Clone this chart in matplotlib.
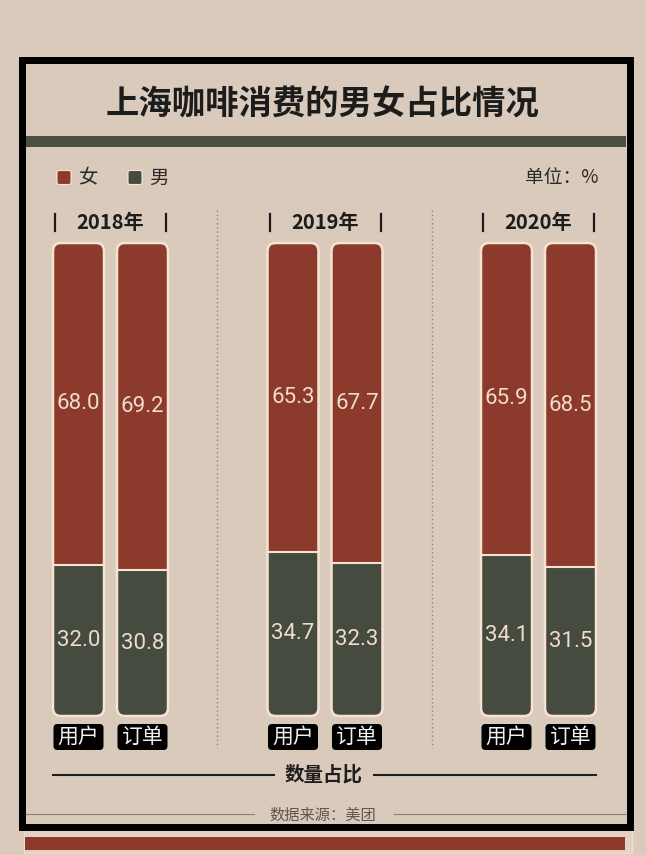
import matplotlib
matplotlib.use('Agg')
import matplotlib.pyplot as plt
from matplotlib.patches import FancyBboxPatch, Rectangle

plt.rcParams['font.family'] = ['Noto Sans CJK SC', 'DejaVu Sans']

# ---- data ----
years = ['2018年', '2019年', '2020年']
categories = ['用户', '订单']
female_user = [68.0, 65.3, 65.9]
female_order = [69.2, 67.7, 68.5]
male_user = [32.0, 34.7, 34.1]
male_order = [30.8, 32.3, 31.5]
legend_labels = ['女', '男']
title = '上海咖啡消费的男女占比情况'
unit_text = '单位：%'
axis_title = '数量占比'
source_text = '数据来源：美团'

# ---- styling / layout ----
W, H = 646, 855
BG = '#d9cabc'
RED = '#8c3a2c'
GREEN = '#454b3f'
CREAM = '#f6e3d2'
NUM = '#f0dccc'
fig = plt.figure(figsize=(W / 100, H / 100), dpi=100)
fig.patch.set_facecolor(BG)

bg = fig.add_axes([0, 0, 1, 1])
bg.set_xlim(0, W)
bg.set_ylim(H, 0)
bg.axis('off')

# bottom strip (card behind)
bg.add_patch(Rectangle((24, 829), 608, 24, fc='#e6d0c1', ec='#eedccc', lw=1))
bg.add_patch(Rectangle((25, 837), 600, 13, fc=RED, ec='none'))
# frame
bg.add_patch(Rectangle((21.5, 60.5), 608, 766.5, fill=False, ec='black', lw=5, zorder=5))

# title and band
bg.text(323, 105, title, ha='center', va='center', fontsize=24,
        fontweight='bold', color='#1c1c1c')
bg.add_patch(Rectangle((25, 136), 601, 11, fc='#4b5043', ec='none'))

# legend
for lx, col, lab in [(57, RED, legend_labels[0]), (128, GREEN, legend_labels[1])]:
    bg.add_patch(FancyBboxPatch((lx, 170.5), 14, 14,
                                boxstyle='round,pad=0,rounding_size=2',
                                fc=col, ec=CREAM, lw=0.8))
    bg.text(lx + 31, 178, lab, ha='center', va='center', fontsize=14, color='#2a2a2a')
bg.text(598, 178, unit_text, ha='right', va='center', fontsize=13.5, color='#2a2a2a')

# group layout
centers = [110.5, 325, 538.5]
offsets = [-32, 32]
bw = 51
top_px, bot_px = 243, 716

# dotted separators
for sx in [217, 432]:
    bg.plot([sx, sx], [210, 748], ls=(0, (1, 2)), color='#8f857c', lw=1)

# year labels
for c, yr in zip(centers, years):
    bg.text(c, 222, yr, ha='center', va='center', fontsize=14.5,
            fontweight='bold', color='#1c1c1c')
    for dx in (-55.5, 55.5):
        bg.plot([c + dx, c + dx], [214, 231], color='#1c1c1c', lw=1.6)

# bars axes
ax = fig.add_axes([0, (H - bot_px) / H, 1, (bot_px - top_px) / H])
ax.set_xlim(0, W)
ax.set_ylim(0, 100)
ax.axis('off')
aspect = 100 / (bot_px - top_px)

series_f = [female_user, female_order]
series_m = [male_user, male_order]
for i, c in enumerate(centers):
    for j, off in enumerate(offsets):
        x = c + off
        f = series_f[j][i]
        m = series_m[j][i]
        clip = FancyBboxPatch((x - bw / 2, 0), bw, 100,
                              boxstyle='round,pad=0,rounding_size=8',
                              mutation_aspect=aspect, fc='none', ec='none')
        ax.add_patch(clip)
        b1 = ax.bar(x, m, width=bw, bottom=0, color=GREEN, zorder=2)
        b2 = ax.bar(x, f, width=bw, bottom=m, color=RED, zorder=2)
        for p in list(b1) + list(b2):
            p.set_clip_path(clip)
        outline = FancyBboxPatch((x - bw / 2, 0), bw, 100,
                                 boxstyle='round,pad=0,rounding_size=8',
                                 mutation_aspect=aspect, fc='none', ec=CREAM,
                                 lw=1.8, zorder=4, clip_on=False)
        ax.add_patch(outline)
        ax.plot([x - bw / 2, x + bw / 2], [m, m], color=CREAM, lw=1.5, zorder=3)
        ax.text(x, m + f / 2, f'{f:.1f}', ha='center', va='center',
                fontsize=16, color=NUM,
                family=['Roboto', 'DejaVu Sans'], zorder=5)
        ax.text(x, m / 2, f'{m:.1f}', ha='center', va='center',
                fontsize=16, color=NUM,
                family=['Roboto', 'DejaVu Sans'], zorder=5)
        # category label box
        bg.add_patch(FancyBboxPatch((x - 25, 724), 50, 26,
                                    boxstyle='round,pad=0,rounding_size=4',
                                    fc='black', ec='none'))
        bg.text(x, 737, categories[j], ha='center', va='center',
                fontsize=15, color='#f2f2f2')

# bottom axis title
bg.text(324, 775, axis_title, ha='center', va='center', fontsize=14,
        fontweight='bold', color='#1e1e1e')
bg.plot([53, 274], [775, 775], color='#1e1e1e', lw=1.5)
bg.plot([374, 596], [775, 775], color='#1e1e1e', lw=1.5)

# source
bg.text(323, 815, source_text, ha='center', va='center', fontsize=11,
        color='#5f5750')
bg.plot([25, 254], [813.5, 813.5], color='#8a8078', lw=0.8)
bg.plot([394, 626], [813.5, 813.5], color='#8a8078', lw=0.8)

fig.savefig('out.png', dpi=100, facecolor=BG)
